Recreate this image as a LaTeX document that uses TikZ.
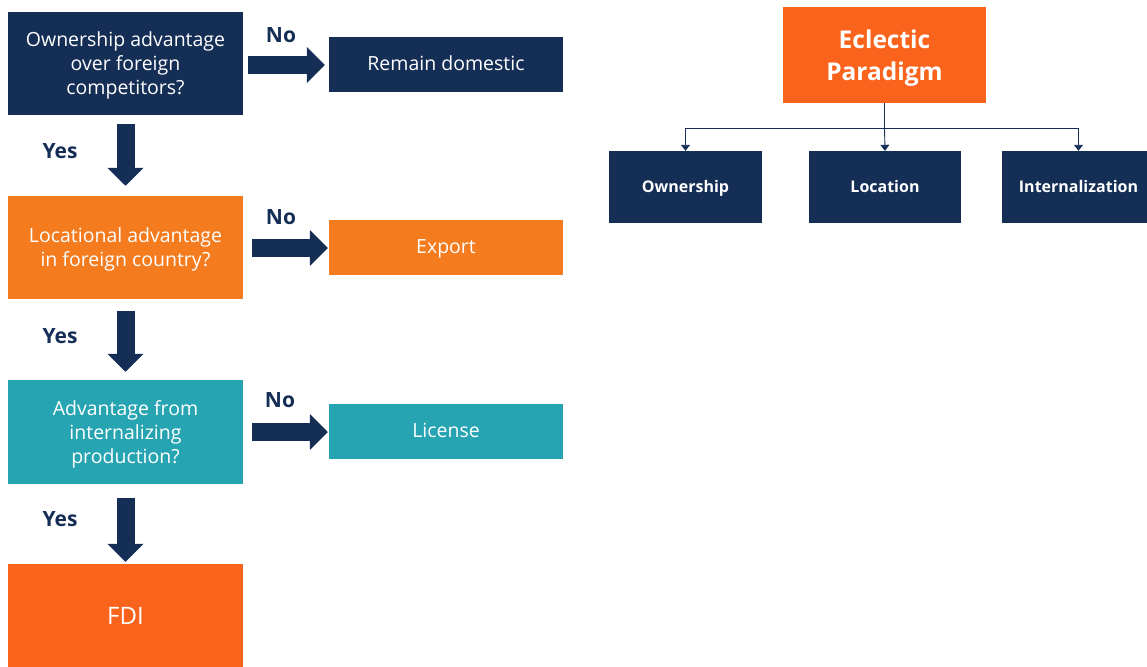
\documentclass[tikz,border=0pt]{standalone}
\usepackage{fontspec}
\setmainfont{Open Sans}
\usetikzlibrary{arrows.meta}
\definecolor{navy}{HTML}{152E56}
\definecolor{orangeA}{HTML}{F47B1E}
\definecolor{orangeB}{HTML}{FA631C}
\definecolor{tealA}{HTML}{27A4B1}
\tikzset{
  box/.style={draw=none, text=white, align=center, inner sep=0pt,
    font=\fontsize{19.5}{24}\selectfont},
  txt/.style={text=white, align=center, inner sep=0pt,
    font=\fontsize{19.5}{24}\selectfont},
  qbox/.style={box, minimum width=235pt, minimum height=103pt},
  abox/.style={box, minimum width=234pt, minimum height=55pt, text height=13pt, text depth=1pt},
  tbox/.style={box, fill=navy, minimum width=153pt, minimum height=72pt,
    font=\fontsize{16}{20}\selectfont\bfseries, text height=11pt, text depth=0pt},
  lbl/.style={text=navy, font=\fontsize{21}{24}\selectfont\bfseries, inner sep=0pt},
  bigarrow/.style={draw=navy, line width=18pt, -{Triangle[width=35pt,length=18pt]}},
  treeline/.style={draw=navy, line width=0.9pt, -{Triangle[width=9pt,length=6pt]}}
}
\begin{document}
\begin{tikzpicture}[x=1pt,y=1pt]
\useasboundingbox (0,0) rectangle (1147,-666);
% left flowchart
\node[qbox, fill=navy] (q1) at (125.5,-63.5) {};
\node[txt, yshift=-2pt] (q1t) at (q1) {Ownership advantage\\over foreign\\competitors?};
\node[abox, fill=navy] (a1) at (446,-64.5) {Remain domestic};
\node[qbox, fill=orangeA] (q2) at (125.5,-247.5) {};
\node[txt, yshift=-1.5pt] (q2t) at (q2) {Locational advantage\\in foreign country?};
\node[abox, fill=orangeA] (a2) at (446,-247.5) {Export};
\node[qbox, fill=tealA, minimum height=104pt] (q3) at (125.5,-432) {};
\node[txt, yshift=-2pt] (q3t) at (q3) {Advantage from\\internalizing\\production?};
\node[abox, fill=tealA] (a3) at (446,-431.5) {License};
\node[qbox, fill=orangeB, minimum height=104pt, font=\fontsize{24}{28}\selectfont,
  text height=17pt, text depth=0pt] (fdi) at (125.5,-616) {FDI};
% connectors
\draw[bigarrow, shorten <=5pt, shorten >=4pt] (q1.east|-0,-65) -- (a1.west|-0,-65);
\draw[bigarrow, shorten <=9pt, shorten >=1pt] (q2.east|-0,-248) -- (a2.west|-0,-248);
\draw[bigarrow, shorten <=9pt, shorten >=1pt] (q3.east|-0,-432) -- (a3.west|-0,-432);
\draw[bigarrow, shorten <=9pt, shorten >=10pt] (q1.south) -- (q2.north);
\draw[bigarrow, shorten <=12pt, shorten >=8pt] (q2.south) -- (q3.north);
\draw[bigarrow, shorten <=14pt, shorten >=2pt] (q3.south) -- (fdi.north);
% labels
\node[lbl] (no1) at (281,-35) {No};
\node[lbl] (no2) at (281,-217) {No};
\node[lbl] (no3) at (280,-400) {No};
\node[lbl] (yes1) at (60,-151) {Yes};
\node[lbl] (yes2) at (60,-336) {Yes};
\node[lbl] (yes3) at (60,-519) {Yes};
% right tree
\node[box, fill=orangeB, minimum width=203pt, minimum height=96pt] (ep) at (884.5,-55) {};
\node[txt, font=\fontsize{24.5}{32}\selectfont\bfseries, yshift=-3pt] (ept) at (ep) {Eclectic\\Paradigm};
\node[tbox] (own) at (685.5,-187) {Ownership};
\node[tbox, minimum width=152pt] (loc) at (885,-187) {Location};
\node[tbox] (int) at (1078.5,-187) {Internalization};
\coordinate (jn) at (884.5,-128);
\draw[treeline] (ep.south) -- (jn) -| (own.north);
\draw[treeline] (jn) -- (loc.north);
\draw[treeline] (jn) -| (int.north);
\end{tikzpicture}
\end{document}
